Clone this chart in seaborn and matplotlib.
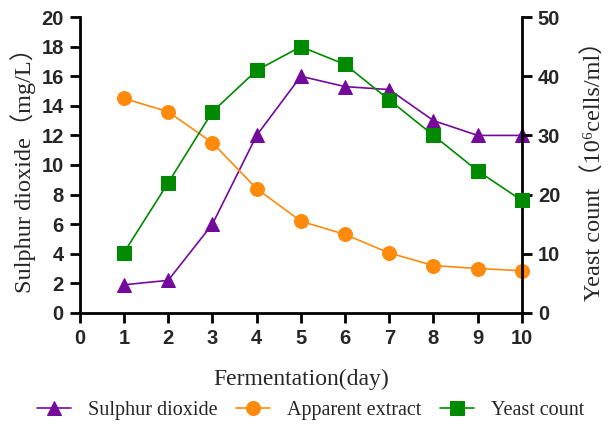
import matplotlib
matplotlib.use("Agg")
import matplotlib.pyplot as plt
import seaborn as sns
import pandas as pd

days = [1, 2, 3, 4, 5, 6, 7, 8, 9, 10]
sulphur_dioxide = [1.9, 2.2, 6.0, 12.0, 16.0, 15.3, 15.1, 13.0, 12.0, 12.0]
apparent_extract = [14.5, 13.6, 11.5, 8.4, 6.2, 5.3, 4.05, 3.2, 3.0, 2.85]
yeast_count = [10.2, 22.0, 34.0, 41.0, 45.0, 42.0, 36.0, 30.0, 24.0, 19.0]
x_ticks = list(range(0, 11))
left_ticks = list(range(0, 21, 2))
right_ticks = list(range(0, 51, 10))

sns.set_theme(style="white")
plt.rcParams['font.family'] = ['Liberation Serif', 'DejaVu Serif', 'Noto Sans CJK SC']

df = pd.DataFrame({"day": days, "so2": sulphur_dioxide,
                   "extract": apparent_extract, "yeast": yeast_count})

purple = "#740a9c"
orange = "#ff8a0c"
green = "#008a00"

fig = plt.figure(figsize=(6.09, 4.28), dpi=100)
ax = fig.add_axes([0.131, 0.269, 0.726, 0.691])
ax2 = ax.twinx()

sns.lineplot(data=df, x="day", y="so2", ax=ax, color=purple, marker="^",
             markersize=10, markeredgecolor=purple, linewidth=1.2,
             label="Sulphur dioxide", clip_on=False, zorder=5, legend=False)
sns.lineplot(data=df, x="day", y="extract", ax=ax, color=orange, marker="o",
             markersize=10, markeredgecolor=orange, linewidth=1.2,
             label="Apparent extract", clip_on=False, zorder=5, legend=False)
sns.lineplot(data=df, x="day", y="yeast", ax=ax2, color=green, marker="s",
             markersize=9.5, markeredgecolor=green, linewidth=1.2,
             label="Yeast count", clip_on=False, zorder=5, legend=False)

tick_font = dict(fontfamily='Liberation Sans', fontweight='bold', fontsize=14.5)
ax.set_xlim(0, 10)
ax.set_ylim(0, 20)
ax2.set_ylim(0, 50)
ax.set_xticks(x_ticks, labels=[str(t) for t in x_ticks], **tick_font)
ax.set_yticks(left_ticks, labels=[str(t) for t in left_ticks], **tick_font)
ax2.set_yticks(right_ticks, labels=[str(t) for t in right_ticks], **tick_font)

for a in (ax, ax2):
    a.spines['top'].set_visible(False)
    for s in ('left', 'right', 'bottom'):
        a.spines[s].set_linewidth(2.0)
        a.spines[s].set_color('black')
    a.tick_params(axis='both', direction='out', length=7.5, width=2.0,
                  color='black', pad=4)
ax.tick_params(axis='both', which='both', left=True, bottom=True)
ax2.tick_params(axis='y', right=True)
ax.spines['right'].set_visible(False)
ax2.spines['left'].set_visible(False)
ax2.spines['bottom'].set_visible(False)

ax.set_xlabel("Fermentation(day)", fontsize=17, labelpad=15)
ax.set_ylabel("Sulphur dioxide（mg/L）", fontsize=17.5, labelpad=4)
ax2.set_ylabel("Yeast count（10⁶cells/ml）", fontsize=17.5, labelpad=16,
               rotation=90)

h1, l1 = ax.get_legend_handles_labels()
h2, l2 = ax2.get_legend_handles_labels()
fig.legend(h1 + h2, l1 + l2, loc='center', bbox_to_anchor=(0.51, 0.04),
           ncol=3, frameon=False, fontsize=14.5, handlelength=1.7,
           columnspacing=0.9, handletextpad=0.85)

fig.savefig("out.png", dpi=100)
